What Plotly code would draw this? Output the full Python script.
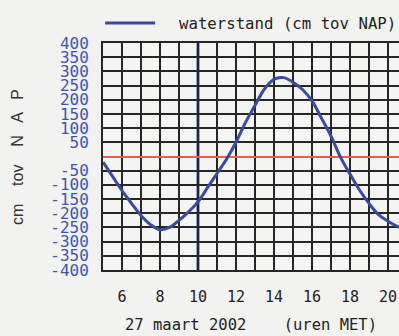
import plotly.graph_objects as go

# Data: water level (cm relative to NAP), 27 March 2002, hours MET
hours = [5, 5.5, 6, 6.5, 7, 7.5, 8, 8.5, 9, 9.5, 10, 10.5, 11, 11.5, 12, 12.5,
         13, 13.5, 14, 14.5, 15, 15.5, 16, 16.5, 17, 17.5, 18, 18.5, 19, 19.5,
         20, 20.6]
waterstand = [-20, -70, -120, -165, -208, -240, -258, -250, -225, -195, -160,
              -110, -60, -10, 50, 120, 180, 238, 272, 278, 262, 236, 196, 135,
              72, -2, -62, -118, -165, -205, -228, -250]
now_hour = 10
x_tickvals = [6, 8, 10, 12, 14, 16, 18, 20]
x_ticktext = ["6", "8", "10", "12", "14", "16", "18", "20"]
y_tickvals = list(range(400, -401, -50))
y_ticktext = [str(v) if v != 0 else "" for v in y_tickvals]
series_name = "waterstand (cm tov NAP)"
x_title = "27 maart 2002    (uren MET)"
y_title = "cm    tov    N   A   P"

mono = "DejaVu Sans Mono"
line_col = "#3a4aa0"
grid_col = "#262626"
bg = "#f2f2f0"

fig = go.Figure()
fig.add_trace(go.Scatter(x=hours, y=waterstand, mode="lines", name=series_name,
                         line=dict(color=line_col, width=3, shape="spline"),
                         showlegend=False))

fig.update_layout(
    width=399, height=336,
    margin=dict(l=103, r=0, t=43, b=66, autoexpand=False),
    paper_bgcolor=bg, plot_bgcolor="#f4f4f2",
    xaxis=dict(range=[5, 20.58], tickvals=x_tickvals, ticktext=x_ticktext,
               automargin=False,
               showgrid=True, gridcolor=grid_col, gridwidth=2,
               minor=dict(dtick=1, tick0=5, showgrid=True, gridcolor=grid_col, gridwidth=2),
               showline=True, linecolor=grid_col, linewidth=2, mirror=True,
               zeroline=False, ticks="", ticklabelstandoff=12,
               tickfont=dict(family=mono, size=15, color="#222")),
    yaxis=dict(range=[-400, 400], tickvals=y_tickvals, ticktext=y_ticktext,
               automargin=False,
               showgrid=True, gridcolor=grid_col, gridwidth=2,
               showline=True, linecolor=grid_col, linewidth=2, mirror=False,
               zeroline=True, zerolinecolor="#ee5a5a", zerolinewidth=1.5,
               ticks="", ticklabelstandoff=9,
               tickfont=dict(family=mono, size=16, color="#3f52b8")),
)

# current-time marker
fig.add_shape(type="line", xref="x", yref="paper", x0=now_hour, x1=now_hour,
              y0=0, y1=1, line=dict(color="#3550b8", width=3), layer="between")

# legend (drawn manually to match the long sample line)
fig.add_shape(type="line", xref="paper", yref="paper", x0=0.007, x1=0.176,
              y0=1.088, y1=1.088, line=dict(color=line_col, width=3))
fig.add_annotation(xref="paper", yref="paper", x=0.25, y=1.088, text=series_name,
                   showarrow=False, xanchor="left", yanchor="middle",
                   font=dict(family=mono, size=15.7, color="#222"))

fig.add_annotation(xref="paper", yref="paper", x=0.5, y=-0.242, text=x_title,
                   showarrow=False, xanchor="center", yanchor="middle",
                   font=dict(family=mono, size=15.5, color="#222"))
fig.add_annotation(xref="paper", yref="paper", x=-0.287, y=0.498, text=y_title,
                   showarrow=False, xanchor="center", yanchor="middle", textangle=-90,
                   font=dict(family="Liberation Sans", size=16, color="#333"))

fig.write_html("out.html", config={"displayModeBar": False},
               post_script="document.body.style.margin='0';"
                           "document.body.style.overflow='hidden';"
                           "document.body.style.background='%s';" % bg)
